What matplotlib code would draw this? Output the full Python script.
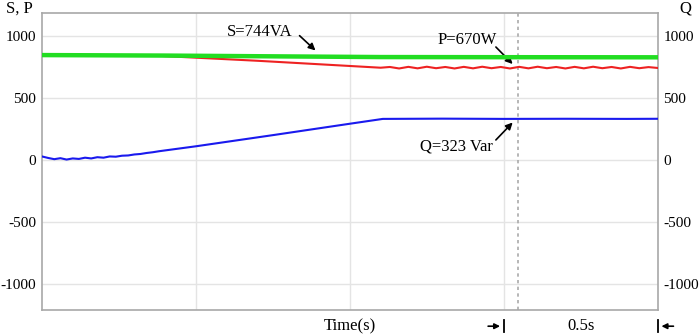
import matplotlib
matplotlib.use('Agg')
import matplotlib.pyplot as plt

plt.rcParams['font.family'] = ['Liberation Serif', 'DejaVu Serif']
plt.rcParams['font.size'] = 11
plt.rcParams['axes.unicode_minus'] = False

# S (apparent power) - green
s_time = [0.0, 0.4, 0.8, 1.1, 1.5, 2.0]
s_vals = [846, 842, 835, 830, 829, 828]

# P (active power) - red, ramps down then small ripple
p_time = [0.0, 0.38, 0.7, 1.1,
          1.13, 1.16, 1.19, 1.22, 1.25, 1.28, 1.31, 1.34, 1.37, 1.40,
          1.43, 1.46, 1.49, 1.52, 1.55, 1.58, 1.61, 1.64, 1.67, 1.70,
          1.73, 1.76, 1.79, 1.82, 1.85, 1.88, 1.91, 1.94, 1.97, 2.0]
p_vals = [844, 840, 800, 744,
          750, 738, 751, 739, 752, 740, 750, 738, 751, 739,
          752, 740, 750, 738, 751, 739, 752, 740, 750, 738,
          751, 739, 752, 740, 750, 738, 751, 740, 749, 742]

# Q (reactive power) - blue, noisy start then ramp then flat
q_time = [0.0, 0.02, 0.04, 0.06, 0.08, 0.10, 0.12, 0.14, 0.16, 0.18,
          0.20, 0.22, 0.24, 0.26, 0.28, 0.30, 0.32, 0.34, 0.36, 0.38,
          0.5, 0.75, 1.0, 1.107, 1.3, 1.5, 1.7, 1.9, 2.0]
q_vals = [28, 16, 6, 14, 3, 12, 8, 18, 12, 22,
          18, 28, 26, 34, 36, 44, 48, 56, 62, 70,
          110, 200, 292, 331, 333, 331, 332, 331, 332]

y_ticks = [-1000, -500, 0, 500, 1000]
x_ticks = [0.5, 1.0, 1.5]
cursor_t = 1.545

fig = plt.figure(figsize=(6.99, 3.35), dpi=100)
ax = fig.add_axes([0.060, 0.075, 0.881, 0.886])

ax.plot(s_time, s_vals, color='#22dd22', lw=3.2, zorder=5)
ax.plot(p_time, p_vals, color='#ee2222', lw=1.5, zorder=4)
ax.plot(q_time, q_vals, color='#1a1aee', lw=1.5, zorder=4)

ax.axvline(cursor_t, color='#aaaaaa', lw=1.2, ls=(0, (2, 2)), zorder=2)

ax.set_xlim(0, 2.0)
ax.set_ylim(-1210, 1185)
ax.set_xticks(x_ticks)
ax.set_yticks(y_ticks)
ax.set_xticklabels([])
ax.grid(True, color='#e4e4e4', lw=1.0)
ax.tick_params(length=0, labelsize=11, pad=4)
ax.tick_params(axis='y', labelright=True)
for sp in ax.spines.values():
    sp.set_color('#a8a8a8')
    sp.set_linewidth(1.2)

arrow = dict(arrowstyle='-|>', color='black', lw=1.2, mutation_scale=10)
ax.annotate('', xy=(0.895, 868), xytext=(0.83, 1018), arrowprops=arrow)
ax.text(0.708, 1032, 'S=744VA', ha='center', va='center', fontsize=12)
ax.annotate('', xy=(1.535, 758), xytext=(1.468, 927), arrowprops=arrow)
ax.text(1.38, 968, 'P=670W', ha='center', va='center', fontsize=12)
ax.annotate('', xy=(1.535, 318), xytext=(1.468, 145), arrowprops=arrow)
ax.text(1.345, 105, 'Q=323 Var', ha='center', va='center', fontsize=12)

fig.text(0.008, 0.975, 'S, P', ha='left', va='center', fontsize=12)
fig.text(0.981, 0.975, 'Q', ha='center', va='center', fontsize=12)

# time scale marker below the axis
bot = -0.055
ax.text(1.0, bot, 'Time(s)', transform=ax.get_xaxis_transform(), ha='center', va='center', fontsize=12)
ax.text(1.75, bot, '0.5s', transform=ax.get_xaxis_transform(), ha='center', va='center', fontsize=12)
mark = dict(arrowstyle='-|>', color='black', lw=1.2, mutation_scale=8)
tr = ('data', 'axes fraction')
ax.annotate('', xy=(1.497, bot), xytext=(1.44, bot), xycoords=tr, textcoords=tr, arrowprops=mark, annotation_clip=False)
ax.annotate('', xy=(2.003, bot), xytext=(2.06, bot), xycoords=tr, textcoords=tr, arrowprops=mark, annotation_clip=False)
ax.plot([1.5, 1.5], [bot - 0.02, bot + 0.02], transform=ax.get_xaxis_transform(), color='black', lw=1.3, clip_on=False)
ax.plot([2.0, 2.0], [bot - 0.02, bot + 0.02], transform=ax.get_xaxis_transform(), color='black', lw=1.3, clip_on=False)

fig.savefig('out.png', dpi=100)
